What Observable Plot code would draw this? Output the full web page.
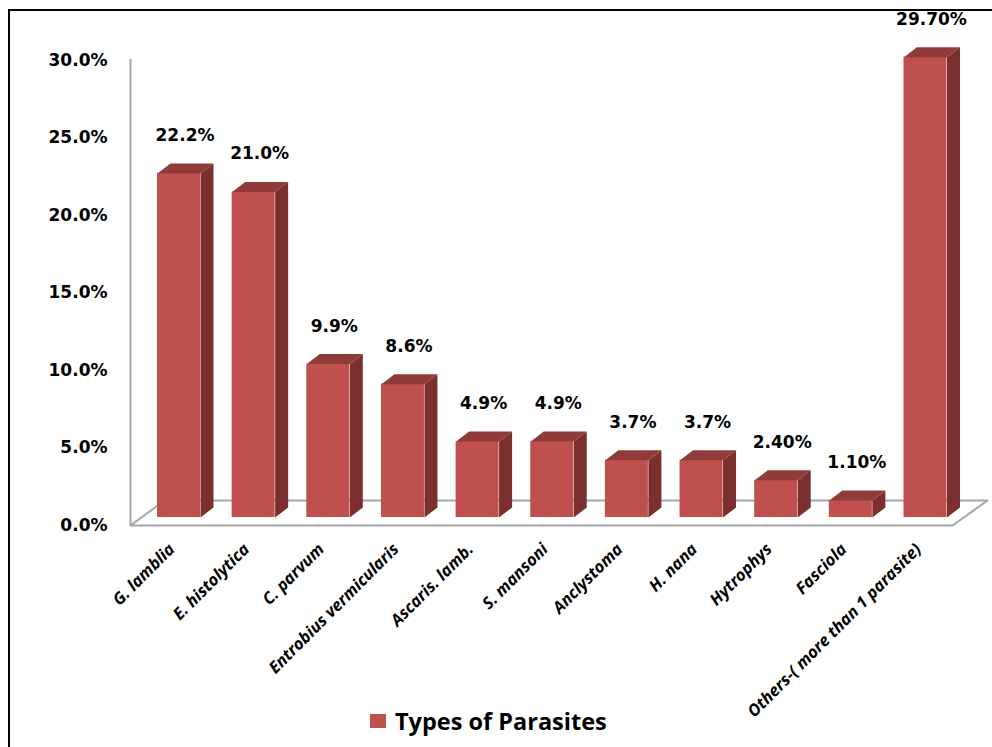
<!DOCTYPE html>
<html>
<head>
<meta charset="utf-8">
<script src="https://cdn.jsdelivr.net/npm/d3@7"></script>
<script src="https://cdn.jsdelivr.net/npm/@observablehq/plot@0.6"></script>
<style>
  html, body { margin: 0; padding: 0; background: #fff; }
  body { width: 992px; height: 747px; position: relative; overflow: hidden; }
  #frame { position: absolute; left: 8px; top: 9px; width: 1100px; height: 800px; border: 2px solid #000; box-sizing: border-box; }
  #chart { position: absolute; left: 0; top: 0; }
  #legend { position: absolute; left: 370px; top: 705px; display: flex; align-items: center;
            font-family: "Open Sans", Lato, sans-serif; font-weight: 700; font-size: 23.5px; color: #000; }
  #legend .swatch { width: 16px; height: 14px; background: #C0504D; margin-right: 9px; }
</style>
</head>
<body>
<div id="frame"></div>
<div id="chart"></div>
<div id="legend"><span class="swatch"></span><span>Types of Parasites</span></div>
<script>
// Parasite types and the share of cases for each
const categories = [
  "G. lamblia", "E. histolytica", "C. parvum", "Entrobius vermicularis",
  "Ascaris. lamb.", "S. mansoni", "Anclystoma", "H. nana",
  "Hytrophys", "Fasciola", "Others-( more than 1 parasite)"
];
const valueLabels = ["22.2%", "21.0%", "9.9%", "8.6%", "4.9%", "4.9%", "3.7%", "3.7%", "2.40%", "1.10%", "29.70%"];
const values = valueLabels.map(s => parseFloat(s));
const yTicks = [0, 5, 10, 15, 20, 25, 30];

// Layout of the pseudo-3D column chart (pixels)
const W = 992, H = 700;
const X0 = 178.5, XSTEP = 74.65;   // centre of first column, column spacing
const Y0 = 517, YTOP = 52;          // y of 0% and 30% on the column plane
const PX_PER_PCT = (Y0 - YTOP) / 30;
const ux = p => p / XSTEP;          // pixels -> x units
const uy = p => p / PX_PER_PCT;     // pixels -> y units

const halfW = ux(21.5), depthX = ux(13), depthY = uy(10);

const rows = categories.map((c, i) => ({i, c, v: values[i], label: valueLabels[i]}));

// side and top faces of each column as closed polygons
const sideFaces = rows.flatMap(d => [
  [d.i + halfW, 0], [d.i + halfW + depthX, depthY],
  [d.i + halfW + depthX, d.v + depthY], [d.i + halfW, d.v]
].map(([x, y]) => ({id: d.i, x, y})));

const topFaces = rows.flatMap(d => [
  [d.i - halfW, d.v], [d.i + halfW, d.v],
  [d.i + halfW + depthX, d.v + depthY], [d.i - halfW + depthX, d.v + depthY]
].map(([x, y]) => ({id: d.i, x, y})));

// floor of the 3D plot area
const floorFront = -uy(8), floorBack = uy(17);
const floor = [
  [ux(130 - X0), floorFront], [ux(952 - X0), floorFront],
  [ux(987 - X0), floorBack], [ux(164 - X0), floorBack]
].map(([x, y]) => ({id: 0, x, y}));

const chart = Plot.plot({
  width: W,
  height: H,
  marginLeft: 130,
  marginTop: 52,
  marginBottom: H - 547,
  x: {type: "linear", domain: [0, 10], range: [X0, X0 + 10 * XSTEP], axis: null},
  y: {type: "linear", domain: [0, 30], range: [Y0, YTOP]},
  style: {background: "transparent", overflow: "visible"},
  marks: [
    Plot.line(floor, {x: "x", y: "y", z: "id", curve: "linear-closed",
      fill: "#fff", stroke: "#a6a6a6", strokeWidth: 2}),
    Plot.ruleX([ux(130 - X0)], {y1: floorFront, y2: uy(Y0 - 59), stroke: "#a6a6a6", strokeWidth: 2}),
    Plot.axisY(yTicks, {
      anchor: "left", tickSize: 0, tickPadding: 23, dy: 8,
      tickFormat: d => d.toFixed(1) + "%",
      fontFamily: "DejaVu Sans", fontSize: 17, fontWeight: "bold", fill: "#000"
    }),
    // category names, slanted under each column
    Plot.text(rows, {
      x: "i", y: -uy(546 - Y0), text: "c", rotate: -45, textAnchor: "end", dx: -7,
      fontFamily: "Open Sans", fontSize: 16.5, fontWeight: "bold", fontStyle: "italic", fill: "#000"
    }),
    Plot.rect(rows, {x1: d => d.i - halfW, x2: d => d.i + halfW, y1: 0, y2: "v", fill: "#C0504D"}),
    Plot.line(sideFaces, {x: "x", y: "y", z: "id", curve: "linear-closed", fill: "#7B2F2E", stroke: "none"}),
    Plot.line(topFaces, {x: "x", y: "y", z: "id", curve: "linear-closed", fill: "#8F3B39", stroke: "none"}),
    Plot.text(rows, {x: "i", y: "v", text: "label", dy: -38, dx: 6,
      fontFamily: "DejaVu Sans", fontSize: 17, fontWeight: "bold", fill: "#000"})
  ]
});
document.getElementById("chart").appendChild(chart);
</script>
</body>
</html>
